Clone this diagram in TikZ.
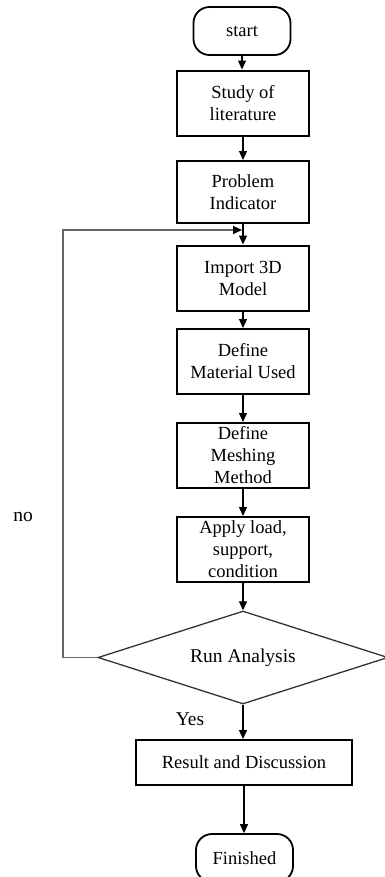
\documentclass[tikz,border=0pt]{standalone}
\usepackage{fontspec}
\setmainfont{Liberation Serif}
\usetikzlibrary{arrows.meta,shapes.geometric}
\begin{document}
\begin{tikzpicture}[x=1bp,y=-1bp,
  every node/.style={font=\fontsize{18.5bp}{22bp}\selectfont},
  proc/.style={draw=black,line width=2bp,minimum width=132bp,minimum height=65bp,inner sep=0pt,align=center},
  term/.style={draw=black,line width=1.8bp,rounded corners=16bp,minimum width=97bp,minimum height=48bp,inner sep=0pt},
  decide/.style={shape=diamond,aspect=3.12,draw=black!80,line width=1.3bp,minimum width=290bp,minimum height=93bp,inner sep=0pt,font=\fontsize{19.5bp}{22bp}\selectfont},
  arr/.style={draw=black,line width=1.2bp,-{Triangle[length=9bp,width=8bp]}},
  fb/.style={draw=black!60,line width=1.3bp,-{Triangle[length=9bp,width=8bp,color=black]}},
  lbl/.style={anchor=base,inner sep=0pt,font=\fontsize{19.5bp}{22bp}\selectfont}
]
\useasboundingbox (0,0) rectangle (384,877);

\node[term] (start) at (242,31) {start};
\node[proc] (study) at (243,103) {Study of\\literature};
\node[proc,minimum height=62bp] (problem) at (243,192) {Problem\\Indicator};
\node[proc] (import) at (243,278) {Import 3D\\Model};
\node[proc] (material) at (243,361.5) {Define\\Material Used};
\node[proc] (meshing) at (243,455.5) {Define\\Meshing\\Method};
\node[proc] (apply) at (243,549.5) {Apply load,\\support,\\condition};
\node[decide] (run) at (243,657.5) {Run Analysis};
\node[proc,minimum width=216bp,minimum height=45bp] (result) at (244,762.5) {Result and Discussion};
\node[term] (finish) at (244.5,858) {Finished};

\node[lbl] (yes) at (190,725) {Yes};
\node[lbl] (no) at (23,521) {no};

\draw[arr] (start.south) -- (start.south |- study.north);
\draw[arr] (study.south) -- (problem.north);
\draw[arr] (problem.south) -- (import.north);
\draw[arr] (import.south) -- (material.north);
\draw[arr] (material.south) -- (meshing.north);
\draw[arr] (meshing.south) -- (apply.north);
\draw[arr] (apply.south) -- (run.north);
\draw[arr] (run.south) -- (run.south |- result.north);
\draw[arr] (result.south) -- (result.south |- finish.north);

\coordinate (loopL) at (63,230);
\coordinate (loopR) at (242,230);
\draw[fb] (run.west) -| (loopL) -- (loopR);
\end{tikzpicture}
\end{document}
